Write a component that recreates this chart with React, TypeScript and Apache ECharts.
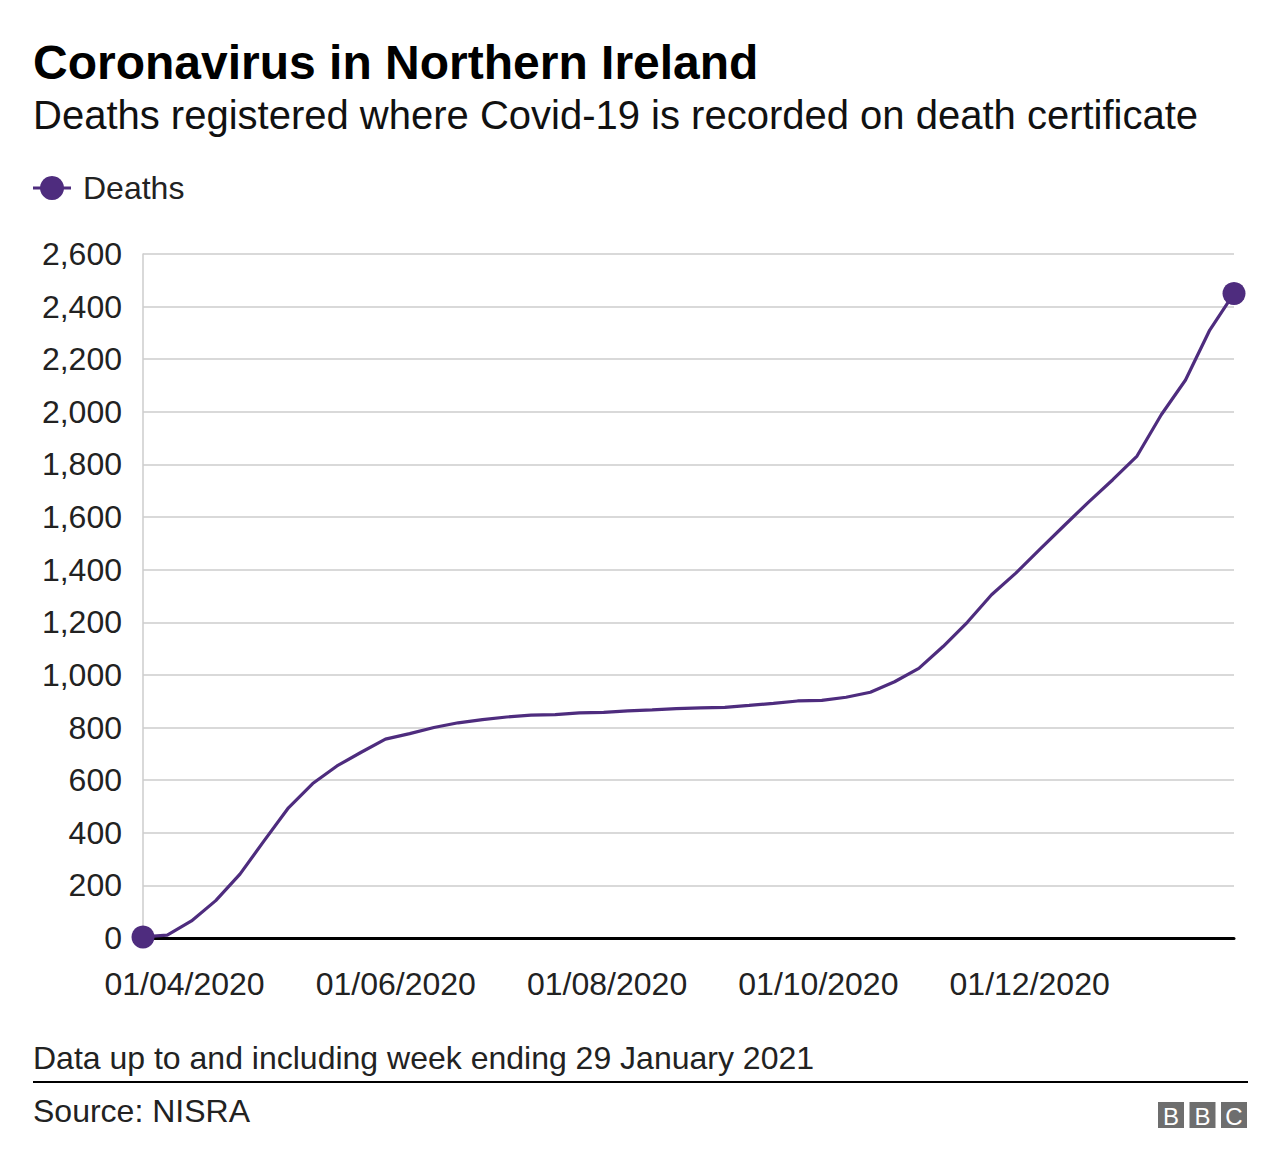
import React, { useEffect, useRef } from "react";
import * as echarts from "echarts";

const weekEnding: string[] = [
  "2020-03-20", "2020-03-27", "2020-04-03", "2020-04-10", "2020-04-17", "2020-04-24",
  "2020-05-01", "2020-05-08", "2020-05-15", "2020-05-22", "2020-05-29",
  "2020-06-05", "2020-06-12", "2020-06-19", "2020-06-26",
  "2020-07-03", "2020-07-10", "2020-07-17", "2020-07-24", "2020-07-31",
  "2020-08-07", "2020-08-14", "2020-08-21", "2020-08-28",
  "2020-09-04", "2020-09-11", "2020-09-18", "2020-09-25",
  "2020-10-02", "2020-10-09", "2020-10-16", "2020-10-23", "2020-10-30",
  "2020-11-06", "2020-11-13", "2020-11-20", "2020-11-27",
  "2020-12-04", "2020-12-11", "2020-12-18", "2020-12-25",
  "2021-01-01", "2021-01-08", "2021-01-15", "2021-01-22", "2021-01-29",
];

const deaths: number[] = [
  4, 11, 65, 142, 243, 370,
  495, 587, 654, 706, 756,
  777, 800, 818, 830,
  840, 847, 849, 856, 858,
  863, 867, 872, 875,
  877, 884, 892, 901,
  903, 915, 934, 974, 1025,
  1108, 1200, 1305, 1387,
  1478, 1568, 1657, 1742,
  1832, 1989, 2121, 2311, 2450,
];

const xTickDates: string[] = ["2020-04-01", "2020-06-01", "2020-08-01", "2020-10-01", "2020-12-01"];

const yMin = 0;
const yMax = 2600;
const yStep = 200;

const titleText = "Coronavirus in Northern Ireland";
const subtitleText = "Deaths registered where Covid-19 is recorded on death certificate";
const legendLabel = "Deaths";
const footnoteText = "Data up to and including week ending 29 January 2021";
const sourceText = "Source: NISRA";

const FONT = '"Liberation Sans", Arial, Helvetica, sans-serif';
const PURPLE = "#4e2c7e";

function toTs(s: string): number {
  const [y, m, d] = s.split("-").map(Number);
  return Date.UTC(y, m - 1, d);
}
function pad(n: number) {
  return n < 10 ? "0" + n : String(n);
}
function fmtDate(v: number): string {
  const d = new Date(v);
  return pad(d.getUTCDate()) + "/" + pad(d.getUTCMonth() + 1) + "/" + d.getUTCFullYear();
}
function fmtNum(v: number): string {
  return String(v).replace(/\B(?=(\d{3})+(?!\d))/g, ",");
}

export default function App() {
  const ref = useRef<HTMLDivElement>(null);

  useEffect(() => {
    document.body.style.margin = "0";
    if (!ref.current) return;
    const chart = echarts.init(ref.current, undefined, { renderer: "svg" });

    const lineData = weekEnding.map((d, i) => [toTs(d), deaths[i]]);
    const ends = [lineData[0], lineData[lineData.length - 1]];

    const option: any = {
      animation: false,
      backgroundColor: "#ffffff",
      grid: { left: 143, right: 46, top: 254, bottom: 232, containLabel: false },
      xAxis: {
        type: "value",
        min: toTs(weekEnding[0]),
        max: toTs(weekEnding[weekEnding.length - 1]),
        axisLine: { show: true, onZero: false, lineStyle: { color: "#000000", width: 3 } },
        axisTick: { show: false },
        splitLine: { show: false },
        axisLabel: {
          customValues: xTickDates.map(toTs),
          formatter: (v: number) => fmtDate(v),
          fontFamily: FONT,
          fontSize: 32,
          color: "#222222",
          margin: 30,
          hideOverlap: false,
        },
      },
      yAxis: {
        type: "value",
        min: yMin,
        max: yMax,
        interval: yStep,
        axisLine: { show: true, lineStyle: { color: "#cccccc", width: 1.5 } },
        axisTick: { show: false },
        splitLine: { show: true, lineStyle: { color: "#cccccc", width: 1.5 } },
        axisLabel: {
          formatter: (v: number) => fmtNum(v),
          fontFamily: FONT,
          fontSize: 32,
          color: "#222222",
          margin: 21,
        },
      },
      series: [
        {
          name: legendLabel,
          type: "line",
          data: lineData,
          symbol: "none",
          lineStyle: { color: PURPLE, width: 3.2 },
          z: 3,
        },
        {
          name: legendLabel,
          type: "scatter",
          data: ends,
          symbol: "circle",
          symbolSize: 23,
          itemStyle: { color: PURPLE, opacity: 1 },
          z: 5,
        },
      ],
      graphic: [
        {
          type: "text",
          x: 33,
          y: 62,
          style: {
            text: titleText,
            font: `bold 48px ${FONT}`,
            fill: "#000000",
            verticalAlign: "middle",
          },
        },
        {
          type: "text",
          x: 33,
          y: 115,
          style: {
            text: subtitleText,
            font: `40px ${FONT}`,
            fill: "#111111",
            verticalAlign: "middle",
          },
        },
        {
          type: "line",
          shape: { x1: 33, y1: 188, x2: 71, y2: 188 },
          style: { stroke: PURPLE, lineWidth: 3 },
        },
        {
          type: "circle",
          shape: { cx: 52, cy: 188, r: 12 },
          style: { fill: PURPLE },
        },
        {
          type: "text",
          x: 83,
          y: 188,
          style: {
            text: legendLabel,
            font: `32px ${FONT}`,
            fill: "#222222",
            verticalAlign: "middle",
          },
        },
        {
          type: "text",
          x: 33,
          y: 1058,
          style: {
            text: footnoteText,
            font: `32px ${FONT}`,
            fill: "#222222",
            verticalAlign: "middle",
          },
        },
        {
          type: "rect",
          shape: { x: 33, y: 1081, width: 1215, height: 2 },
          style: { fill: "#000000" },
        },
        {
          type: "text",
          x: 33,
          y: 1111,
          style: {
            text: sourceText,
            font: `32px ${FONT}`,
            fill: "#222222",
            verticalAlign: "middle",
          },
        },
        ...["B", "B", "C"].flatMap((ch, i) => {
          const bx = 1158 + i * 31.5;
          return [
            {
              type: "rect",
              shape: { x: bx, y: 1102, width: 26, height: 26 },
              style: { fill: "#6e6e6e" },
            },
            {
              type: "text",
              x: bx + 13,
              y: 1116,
              style: {
                text: ch,
                font: `24px ${FONT}`,
                fill: "#ffffff",
                align: "center",
                verticalAlign: "middle",
              },
            },
          ];
        }),
      ],
    };

    chart.setOption(option);
    return () => chart.dispose();
  }, []);

  return <div ref={ref} style={{ width: 1280, height: 1170, background: "#fff" }} />;
}
